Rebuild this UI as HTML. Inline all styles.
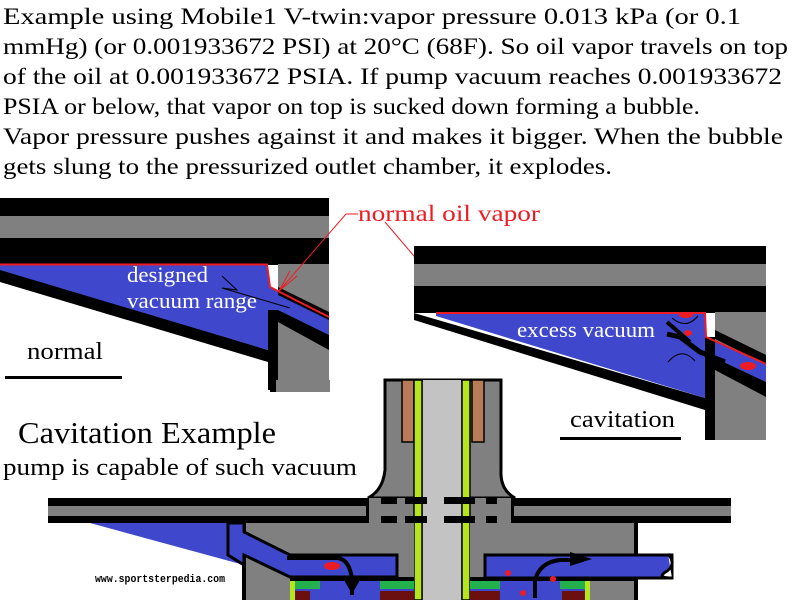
<!DOCTYPE html>
<html><head><meta charset="utf-8"><style>
html,body{margin:0;padding:0;background:#fff;}
svg{display:block;}
</style></head><body>
<svg width="800" height="600" viewBox="0 0 800 600" xmlns="http://www.w3.org/2000/svg" font-family="'Liberation Serif', 'Times New Roman', serif">
<rect width="800" height="600" fill="#fff"/>
<g font-size="23" fill="#000">
<text x="3" y="24" textLength="738" lengthAdjust="spacingAndGlyphs">Example using Mobile1 V-twin:vapor pressure  0.013 kPa (or 0.1</text>
<text x="3" y="54" textLength="785" lengthAdjust="spacingAndGlyphs">mmHg) (or 0.001933672 PSI) at 20°C (68F). So oil vapor travels on top</text>
<text x="3" y="84" textLength="779" lengthAdjust="spacingAndGlyphs">of the oil at 0.001933672 PSIA. If pump vacuum reaches  0.001933672</text>
<text x="3" y="114" textLength="697" lengthAdjust="spacingAndGlyphs">PSIA or below, that vapor on top is sucked down forming a bubble.</text>
<text x="3" y="144" textLength="780" lengthAdjust="spacingAndGlyphs">Vapor pressure pushes against it and makes it bigger. When the bubble</text>
<text x="3" y="174" textLength="609" lengthAdjust="spacingAndGlyphs">gets slung to the pressurized outlet chamber, it explodes.</text>
</g>

<!-- Left diagram -->
<rect x="0" y="198" width="329" height="18" fill="#000"/>
<rect x="0" y="216" width="329" height="22" fill="#808080"/>
<rect x="0" y="238" width="329" height="27" fill="#000"/>
<rect x="278" y="264" width="51" height="126" fill="#808080"/>
<polygon points="0,268 0,282 268,362 268,350" fill="#000"/>
<polygon points="0,265 267,265 270,287 329,317 329,335 278,310 268,310 268,350 0,270" fill="#3f48cc"/>
<polygon points="278,287 329,312 329,320 278,295" fill="#000"/>
<polygon points="278,310 329,335 329,350 278,322" fill="#000"/>
<rect x="268" y="310" width="10" height="80" fill="#000"/>
<polyline points="0,264.5 267,264.5 270,287 329,317" fill="none" stroke="#ed1c24" stroke-width="2"/>
<text x="127" y="282" font-size="22" fill="#fff" textLength="81" lengthAdjust="spacingAndGlyphs">designed</text>
<text x="127" y="308" font-size="22" fill="#fff" textLength="130" lengthAdjust="spacingAndGlyphs">vacuum range</text>
<polyline points="222,276 237,290 222,288 290,308" fill="none" stroke="#000" stroke-width="1"/>
<text x="27" y="359" font-size="24" textLength="76" lengthAdjust="spacingAndGlyphs">normal</text>
<rect x="5" y="376" width="117" height="3" fill="#000"/>

<!-- Red label -->
<text x="358" y="221" font-size="23" fill="#ed1c24" textLength="182" lengthAdjust="spacingAndGlyphs">normal oil vapor</text>
<g stroke="#ed1c24" stroke-width="1" fill="none">
<polyline points="358,214 346,214 279,291"/>
<line x1="279" y1="291" x2="290" y2="271"/>
<line x1="279" y1="291" x2="297" y2="276"/>
<line x1="385" y1="222" x2="460" y2="310"/>
<line x1="460" y1="310" x2="448" y2="290"/>
<line x1="460" y1="310" x2="441" y2="294"/>
</g>

<!-- Right diagram -->
<rect x="414" y="246" width="352" height="18" fill="#000"/>
<rect x="414" y="264" width="352" height="22" fill="#808080"/>
<rect x="414" y="286" width="352" height="27" fill="#000"/>
<rect x="715" y="312" width="51" height="128" fill="#808080"/>
<polygon points="414,313 414,320 705,410 705,398" fill="#000"/>
<polygon points="436,313 705,313 706,337 766,364 766,382 715,358 705,358 705,398 436,316" fill="#3f48cc"/>
<polygon points="715,330 766,355 766,364 715,339" fill="#000"/>
<polygon points="715,358 766,382 766,397 715,370" fill="#000"/>
<rect x="705" y="337" width="10" height="103" fill="#000"/>
<polyline points="436,313 705,313 706,337 766,364" fill="none" stroke="#ed1c24" stroke-width="2"/>
<text x="517" y="337" font-size="22" fill="#fff" textLength="138" lengthAdjust="spacingAndGlyphs">excess vacuum</text>
<g fill="#ed1c24"><ellipse cx="686" cy="315" rx="7" ry="3"/><ellipse cx="688" cy="333" rx="4" ry="3"/><ellipse cx="748" cy="366" rx="8" ry="4"/></g>
<polyline points="667,334 680,337 700,352 725,362" fill="none" stroke="#000" stroke-width="5"/>
<line x1="667" y1="322" x2="690" y2="342" stroke="#000" stroke-width="4"/>
<path d="M672,318 Q686,330 698,316 M668,362 Q682,346 695,361" fill="none" stroke="#000" stroke-width="1"/>
<text x="570" y="427" font-size="24" textLength="105" lengthAdjust="spacingAndGlyphs">cavitation</text>
<rect x="560" y="437" width="121" height="3" fill="#000"/>

<!-- piece under left diagram -->
<rect x="270" y="380" width="60" height="12" fill="#808080"/>
<rect x="270" y="380" width="6" height="12" fill="#000"/>

<!-- Pump shaft column -->
<path d="M385,380 L385,470 Q383,490 368,498 L515,498 Q500,490 501,470 L501,380 Z" fill="#808080" stroke="#000" stroke-width="3"/>
<rect x="402" y="380" width="12" height="62" fill="#b97a57" stroke="#000" stroke-width="1.5"/>
<rect x="472" y="380" width="12" height="62" fill="#b97a57" stroke="#000" stroke-width="1.5"/>
<rect x="423" y="380" width="38" height="220" fill="#c3c3c3"/>
<rect x="414" y="380" width="8" height="220" fill="#b5e61d" stroke="#000" stroke-width="1.5"/>
<rect x="462" y="380" width="8" height="220" fill="#b5e61d" stroke="#000" stroke-width="1.5"/>

<text x="18" y="443" font-size="31" textLength="258" lengthAdjust="spacingAndGlyphs">Cavitation Example</text>
<text x="3" y="475" font-size="24" textLength="354" lengthAdjust="spacingAndGlyphs">pump is capable of such vacuum</text>

<!-- Plate -->
<rect x="48" y="498" width="320" height="8" fill="#000"/>
<rect x="48" y="506" width="320" height="10" fill="#808080"/>
<rect x="48" y="516" width="320" height="7" fill="#000"/>
<rect x="513" y="498" width="218" height="8" fill="#000"/>
<rect x="513" y="506" width="218" height="10" fill="#808080"/>
<rect x="513" y="516" width="218" height="7" fill="#000"/>
<rect x="368" y="498" width="145" height="25" fill="#808080"/>
<rect x="366" y="498" width="3" height="25" fill="#000"/>
<rect x="511" y="498" width="3" height="25" fill="#000"/>
<rect x="423" y="498" width="38" height="25" fill="#c3c3c3"/>
<rect x="414" y="498" width="8" height="102" fill="#b5e61d" stroke="#000" stroke-width="1.5"/>
<rect x="462" y="498" width="8" height="102" fill="#b5e61d" stroke="#000" stroke-width="1.5"/>
<g fill="#000">
<rect x="381" y="497" width="16" height="7"/><rect x="405" y="497" width="22" height="7"/><rect x="444" y="497" width="31" height="7"/><rect x="486" y="497" width="11" height="7"/>
<rect x="381" y="516" width="16" height="7"/><rect x="405" y="516" width="22" height="7"/><rect x="444" y="516" width="31" height="7"/><rect x="486" y="516" width="11" height="7"/>
</g>

<!-- Housing -->
<rect x="244" y="523" width="170" height="77" fill="#808080"/>
<rect x="470" y="523" width="166" height="77" fill="#808080"/>
<rect x="242" y="523" width="4" height="77" fill="#000"/>
<rect x="634" y="523" width="4" height="77" fill="#000"/>
<polygon points="90,523 244,523 244,565" fill="#3f48cc"/>
<polygon points="228,523 244,523 244,532 290,555 397,555 397,577 290,577 244,555 244,565 228,555" fill="#3f48cc" stroke="#000" stroke-width="3"/>
<polygon points="485,555 672,555 672,578 485,578" fill="#3f48cc" stroke="#000" stroke-width="3"/>
<path d="M668,554 Q678,565 664,573 Q658,578 672,578" fill="#fff" stroke="#000" stroke-width="3"/>
<rect x="290" y="577" width="124" height="4" fill="#000"/>
<rect x="470" y="577" width="166" height="4" fill="#000"/>
<rect x="295" y="581" width="119" height="19" fill="#3f48cc"/>
<rect x="470" y="581" width="115" height="19" fill="#3f48cc"/>
<rect x="295" y="581" width="25" height="8" fill="#22b14c"/>
<rect x="380" y="581" width="34" height="8" fill="#22b14c"/>
<rect x="470" y="581" width="30" height="8" fill="#22b14c"/>
<rect x="560" y="581" width="25" height="8" fill="#22b14c"/>
<rect x="290" y="581" width="5" height="19" fill="#b5e61d"/>
<rect x="585" y="581" width="5" height="19" fill="#b5e61d"/>
<rect x="295" y="591" width="15" height="9" fill="#6b0f0f"/>
<rect x="380" y="591" width="34" height="9" fill="#6b0f0f"/>
<rect x="470" y="591" width="30" height="9" fill="#6b0f0f"/>
<rect x="562" y="591" width="23" height="9" fill="#6b0f0f"/>
<ellipse cx="332" cy="566" rx="8" ry="4" fill="#ed1c24"/>
<path d="M287,558 L338,558 Q350,560 352,580 L352,595" fill="none" stroke="#000" stroke-width="4"/>
<polygon points="344,580 360,580 352,594" fill="#000"/>
<path d="M535,598 L535,580 Q540,562 560,560 L575,560" fill="none" stroke="#000" stroke-width="4"/>
<polygon points="570,552 592,559 570,566" fill="#000"/>
<g fill="#ed1c24"><circle cx="508" cy="573" r="3"/><circle cx="553" cy="579" r="3"/><circle cx="523" cy="593" r="3"/></g>

<text x="95" y="582" font-size="11" font-weight="bold" font-family="'Liberation Mono', monospace" textLength="130" lengthAdjust="spacingAndGlyphs">www.sportsterpedia.com</text>
</svg>
</body></html>
